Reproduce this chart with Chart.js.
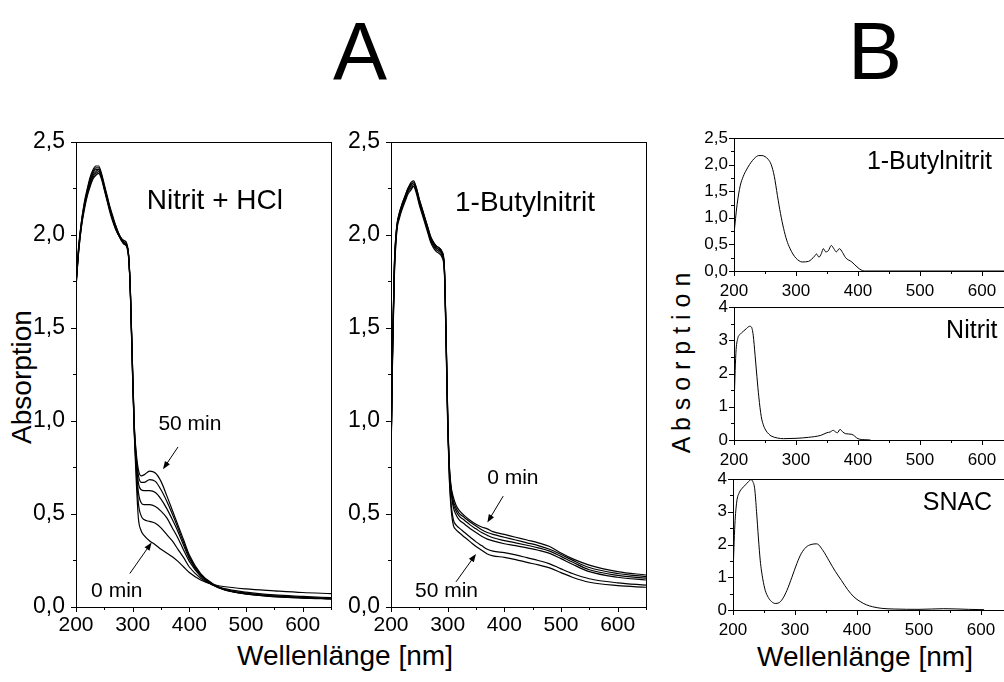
<!DOCTYPE html>
<html>
<head>
<meta charset="utf-8">
<script src="https://cdn.jsdelivr.net/npm/chart.js@4.4.1/dist/chart.umd.min.js"></script>
<style>
  html, body { margin: 0; padding: 0; background: #fff; overflow: hidden; width: 1004px; height: 682px; }
  body { position: relative; font-family: "Liberation Sans", Arial, sans-serif; color: #000; }
  canvas { position: absolute; }
  .t { position: absolute; white-space: nowrap; line-height: 1; }
  .c { transform: translateX(-50%); }
  .r { transform: translate(-50%, -50%) rotate(-90deg); }
</style>
</head>
<body>
<div class="t c" style="left:360px; top:11px; font-size:81px">A</div>
<div class="t c" style="left:875px; top:11px; font-size:81px">B</div>
<div class="t c" style="left:345px; top:642px; font-size:28px">Wellenlänge [nm]</div>
<div class="t c" style="left:865px; top:643px; font-size:28px">Wellenlänge [nm]</div>
<div class="t r" style="left:22px; top:377px; font-size:28px">Absorption</div>
<div class="t r" style="left:681px; top:363px; font-size:25px">A b s o r p t i o n</div>

<canvas id="nitritHcl" width="351" height="540" style="left:0; top:117px"></canvas>
<canvas id="butylTime" width="326" height="540" style="left:340px; top:117px"></canvas>
<canvas id="butylRef" width="343" height="183" style="left:690px; top:118px"></canvas>
<canvas id="nitritRef" width="343" height="183" style="left:690px; top:287px"></canvas>
<canvas id="snacRef" width="343" height="181" style="left:689px; top:459px"></canvas>

<script>
// --- A, left: nitrite + HCl, spectra every 10 min (0 ... 50 min)
const wlHcl = [200, 205, 210, 215, 220, 225, 230, 235, 240, 245, 250, 255, 260, 265, 270, 275, 280, 285, 290, 293,
  296, 300, 303, 306, 310, 315, 320, 330, 340, 350, 360, 370, 380, 390, 400, 420, 440, 460, 500, 550, 600, 650]
const hcl0 = [1.72, 1.92, 2.05, 2.14, 2.21, 2.26, 2.30, 2.32, 2.33, 2.30, 2.24, 2.18, 2.12, 2.07, 2.03, 2.00, 1.98, 1.96, 1.94, 1.88, 1.68, 1.22, 0.92,
  0.70, 0.48, 0.41, 0.385, 0.355, 0.335, 0.31, 0.29, 0.27, 0.245, 0.215, 0.185, 0.145, 0.122, 0.11, 0.097, 0.087, 0.078, 0.072]
const hcl10 = [1.72, 1.92, 2.06, 2.15, 2.22, 2.27, 2.31, 2.33, 2.34, 2.31, 2.25, 2.19, 2.13, 2.08, 2.03, 2.00, 1.98, 1.96, 1.94, 1.88, 1.68, 1.23, 0.93,
  0.75, 0.56, 0.49, 0.47, 0.46, 0.45, 0.425, 0.39, 0.355, 0.31, 0.265, 0.215, 0.155, 0.12, 0.10, 0.08, 0.065, 0.057, 0.05]
const hcl20 = [1.73, 1.93, 2.06, 2.16, 2.23, 2.28, 2.32, 2.34, 2.35, 2.31, 2.25, 2.19, 2.13, 2.08, 2.04, 2.00, 1.97, 1.95, 1.94, 1.88, 1.69, 1.24, 0.94,
  0.78, 0.62, 0.56, 0.55, 0.55, 0.54, 0.515, 0.48, 0.425, 0.37, 0.305, 0.245, 0.165, 0.12, 0.095, 0.075, 0.06, 0.052, 0.047]
const hcl30 = [1.73, 1.94, 2.07, 2.16, 2.23, 2.29, 2.33, 2.35, 2.35, 2.32, 2.26, 2.20, 2.14, 2.09, 2.04, 2.00, 1.97, 1.95, 1.93, 1.87, 1.69, 1.25, 0.95,
  0.80, 0.67, 0.63, 0.625, 0.625, 0.615, 0.58, 0.53, 0.47, 0.405, 0.33, 0.26, 0.17, 0.122, 0.095, 0.072, 0.058, 0.05, 0.045]
const hcl40 = [1.74, 1.94, 2.08, 2.17, 2.24, 2.30, 2.34, 2.36, 2.36, 2.32, 2.26, 2.20, 2.14, 2.09, 2.05, 2.01, 1.98, 1.96, 1.94, 1.88, 1.70, 1.26, 0.96,
  0.82, 0.71, 0.67, 0.67, 0.685, 0.675, 0.63, 0.57, 0.50, 0.425, 0.345, 0.27, 0.175, 0.125, 0.095, 0.07, 0.056, 0.049, 0.044]
const hcl50 = [1.74, 1.95, 2.08, 2.18, 2.25, 2.31, 2.35, 2.37, 2.37, 2.33, 2.27, 2.21, 2.15, 2.10, 2.05, 2.01, 1.98, 1.97, 1.95, 1.89, 1.70, 1.27, 0.97,
  0.84, 0.74, 0.705, 0.71, 0.73, 0.72, 0.675, 0.60, 0.52, 0.44, 0.36, 0.28, 0.18, 0.128, 0.097, 0.07, 0.055, 0.048, 0.044]

// --- A, right: 1-butyl nitrite, spectra every 10 min
const wlButyl = [200, 203, 206, 210, 215, 220, 225, 230, 235, 240, 245, 250, 255, 260, 265, 270, 275, 280, 285, 290,
  294, 297, 300, 303, 306, 310, 315, 320, 330, 340, 350, 360, 370, 380, 400, 420, 440, 460, 480, 500, 520, 550, 600, 650]
const butyl0 = [0.82, 1.45, 1.85, 2.04, 2.12, 2.17, 2.21, 2.25, 2.28, 2.29, 2.25, 2.19, 2.14, 2.09, 2.04, 1.99, 1.96, 1.94, 1.93, 1.91, 1.84, 1.50, 1.05, 0.76, 0.65,
  0.59, 0.545, 0.52, 0.49, 0.465, 0.445, 0.43, 0.42, 0.405, 0.39, 0.375, 0.36, 0.345, 0.325, 0.29, 0.26, 0.225, 0.19, 0.172]
const butyl10 = [0.81, 1.44, 1.84, 2.04, 2.12, 2.17, 2.21, 2.25, 2.27, 2.28, 2.25, 2.19, 2.14, 2.09, 2.04, 1.99, 1.96, 1.94, 1.93, 1.91, 1.84, 1.50, 1.04, 0.75, 0.64,
  0.57, 0.53, 0.505, 0.48, 0.455, 0.435, 0.415, 0.40, 0.39, 0.375, 0.36, 0.345, 0.33, 0.31, 0.282, 0.252, 0.212, 0.18, 0.163]
const butyl20 = [0.81, 1.43, 1.83, 2.03, 2.11, 2.16, 2.20, 2.24, 2.27, 2.28, 2.24, 2.18, 2.13, 2.08, 2.03, 1.98, 1.95, 1.93, 1.92, 1.90, 1.83, 1.49, 1.03, 0.74, 0.63,
  0.555, 0.515, 0.49, 0.465, 0.44, 0.42, 0.40, 0.385, 0.372, 0.357, 0.345, 0.332, 0.318, 0.30, 0.272, 0.242, 0.20, 0.17, 0.155]
const butyl30 = [0.80, 1.42, 1.82, 2.03, 2.11, 2.16, 2.20, 2.24, 2.26, 2.27, 2.24, 2.18, 2.13, 2.08, 2.03, 1.98, 1.95, 1.93, 1.92, 1.90, 1.83, 1.48, 1.02, 0.73, 0.62,
  0.535, 0.495, 0.47, 0.445, 0.42, 0.40, 0.38, 0.365, 0.355, 0.34, 0.33, 0.318, 0.305, 0.288, 0.26, 0.23, 0.19, 0.16, 0.145]
const butyl40 = [0.79, 1.40, 1.80, 2.02, 2.10, 2.15, 2.19, 2.23, 2.25, 2.26, 2.23, 2.17, 2.12, 2.07, 2.02, 1.97, 1.94, 1.92, 1.91, 1.89, 1.82, 1.46, 1.00, 0.70, 0.56,
  0.47, 0.44, 0.425, 0.40, 0.375, 0.35, 0.33, 0.31, 0.30, 0.292, 0.28, 0.265, 0.25, 0.232, 0.205, 0.18, 0.152, 0.13, 0.118]
const butyl50 = [0.78, 1.38, 1.78, 2.01, 2.09, 2.14, 2.18, 2.22, 2.24, 2.26, 2.22, 2.16, 2.11, 2.06, 2.01, 1.96, 1.93, 1.91, 1.90, 1.88, 1.81, 1.45, 0.98, 0.68, 0.53,
  0.44, 0.415, 0.40, 0.375, 0.35, 0.325, 0.305, 0.285, 0.275, 0.267, 0.255, 0.24, 0.226, 0.21, 0.185, 0.16, 0.133, 0.115, 0.106]

// --- B: reference spectra
const wlRefButyl = [200, 205, 210, 215, 220, 225, 230, 235, 240, 245, 250, 255, 260, 265, 270, 275, 280, 285, 290, 295,
  300, 310, 320, 325, 330, 333, 337, 341, 344, 348, 352, 357, 361, 365, 370, 375, 380, 390, 400, 405, 410, 450, 550, 650]
const refButyl = [0.70, 1.25, 1.60, 1.78, 1.90, 2.00, 2.08, 2.14, 2.17, 2.17, 2.15, 2.10, 2.00, 1.78, 1.42, 1.08, 0.80, 0.58, 0.43, 0.32,
  0.24, 0.17, 0.18, 0.22, 0.28, 0.32, 0.26, 0.33, 0.42, 0.36, 0.38, 0.48, 0.42, 0.36, 0.42, 0.35, 0.25, 0.17, 0.06, 0.02, 0.0, 0.0, 0.0, 0.0]

const wlRefNitrit = [200, 203, 206, 210, 215, 220, 225, 228, 231, 234, 237, 240, 244, 248, 252, 256, 260, 270, 280, 300,
  320, 340, 350, 355, 360, 364, 367, 371, 375, 380, 390, 400, 410, 420]
const refNitrit = [1.0, 2.6, 3.05, 3.18, 3.27, 3.35, 3.42, 3.40, 3.15, 2.55, 1.9, 1.3, 0.7, 0.42, 0.27, 0.18, 0.12, 0.06, 0.04, 0.05,
  0.08, 0.14, 0.22, 0.24, 0.29, 0.24, 0.22, 0.32, 0.25, 0.19, 0.17, 0.04, 0.01, 0.0]

const wlRefSnac = [200, 203, 206, 210, 215, 220, 225, 229, 232, 235, 238, 241, 244, 248, 252, 257, 262, 268, 274, 280, 287,
  295, 303, 310, 318, 326, 335, 345, 355, 365, 375, 385, 395, 405, 415, 425, 440, 460, 500, 540, 580, 605]
const refSnac = [1.1, 2.6, 3.3, 3.58, 3.72, 3.82, 3.92, 3.98, 3.92, 3.7, 3.0, 2.2, 1.5, 0.95, 0.6, 0.38, 0.26, 0.2, 0.22, 0.34, 0.6,
  1.0, 1.42, 1.72, 1.92, 2.0, 2.02, 1.82, 1.5, 1.18, 0.9, 0.62, 0.4, 0.26, 0.16, 0.1, 0.05, 0.03, 0.02, 0.04, 0.02, 0.01]

const xTicks = [200, 300, 400, 500, 600]
const yTicksDecimal = [0, 0.5, 1, 1.5, 2, 2.5]
const yTicksInt = [0, 1, 2, 3, 4]

Chart.defaults.font.family = '"Liberation Sans", Arial, sans-serif'
Chart.defaults.color = '#000'

const px = v => Math.round(v) + 0.5

// frame, outward major/minor ticks, text notes and arrows
const framePlugin = {
  id: 'frame',
  afterDraw(chart, args, opts) {
    const { ctx, chartArea: a } = chart
    const x = chart.scales.x, y = chart.scales.y
    ctx.save()
    ctx.strokeStyle = '#000'
    ctx.lineWidth = 1
    ctx.strokeRect(px(a.left), px(a.top), Math.round(a.right) - Math.round(a.left), Math.round(a.bottom) - Math.round(a.top))

    const xs = x.ticks.map(t => t.value), ys = y.ticks.map(t => t.value)
    ctx.beginPath()
    xs.forEach(v => { const p = px(x.getPixelForValue(v)); ctx.moveTo(p, a.bottom); ctx.lineTo(p, a.bottom + 5) })
    for (let i = 0; i < xs.length; i++) {
      const m = xs[i] + (xs[1] - xs[0]) / 2
      if (m <= x.max) { const p = px(x.getPixelForValue(m)); ctx.moveTo(p, a.bottom); ctx.lineTo(p, a.bottom + 3) }
    }
    ys.forEach(v => { const p = px(y.getPixelForValue(v)); ctx.moveTo(a.left, p); ctx.lineTo(a.left - 5, p) })
    for (let i = 0; i < ys.length - 1; i++) {
      const p = px(y.getPixelForValue((ys[i] + ys[i + 1]) / 2)); ctx.moveTo(a.left, p); ctx.lineTo(a.left - 3, p)
    }
    ctx.stroke()

    ctx.fillStyle = '#000'
    ctx.textBaseline = 'middle'
    ;(opts.notes || []).forEach(n => {
      ctx.font = n.size + 'px "Liberation Sans", Arial, sans-serif'
      ctx.textAlign = n.align
      ctx.fillText(n.text, x.getPixelForValue(n.x), y.getPixelForValue(n.y))
    })
    ;(opts.arrows || []).forEach(r => {
      const x0 = x.getPixelForValue(r[0]), y0 = y.getPixelForValue(r[1])
      const x1 = x.getPixelForValue(r[2]), y1 = y.getPixelForValue(r[3])
      const ang = Math.atan2(y1 - y0, x1 - x0)
      ctx.beginPath()
      ctx.moveTo(x0, y0)
      ctx.lineTo(x1 - 6 * Math.cos(ang), y1 - 6 * Math.sin(ang))
      ctx.stroke()
      ctx.beginPath()
      ctx.moveTo(x1, y1)
      ctx.lineTo(x1 - 8 * Math.cos(ang) + 3 * Math.sin(ang), y1 - 8 * Math.sin(ang) - 3 * Math.cos(ang))
      ctx.lineTo(x1 - 8 * Math.cos(ang) - 3 * Math.sin(ang), y1 - 8 * Math.sin(ang) + 3 * Math.cos(ang))
      ctx.closePath()
      ctx.fill()
    })
    ctx.restore()
  }
}

function makePanel(id, o) {
  return new Chart(document.getElementById(id), {
    type: 'line',
    data: {
      datasets: o.series.map(s => ({
        data: o.wl.map((w, i) => ({ x: w, y: s[i] })),
        borderColor: '#000',
        borderWidth: o.lineWidth,
        pointRadius: 0,
        fill: false,
        cubicInterpolationMode: 'monotone'
      }))
    },
    options: {
      responsive: false,
      animation: false,
      events: [],
      layout: { padding: { top: 20, right: 20, left: 0, bottom: 0 } },
      plugins: {
        legend: { display: false },
        tooltip: { enabled: false },
        frame: { notes: o.notes, arrows: o.arrows }
      },
      scales: {
        x: {
          type: 'linear', min: 200, max: 650,
          grid: { display: false, drawTicks: false },
          border: { display: false },
          afterBuildTicks: s => { s.ticks = xTicks.map(v => ({ value: v })) },
          ticks: { padding: o.xPad, autoSkip: false, maxRotation: 0, font: { size: o.tickSize } },
          afterFit: s => { s.height = o.xHeight }
        },
        y: {
          type: 'linear', min: 0, max: o.yMax,
          grid: { display: false, drawTicks: false },
          border: { display: false },
          afterBuildTicks: s => { s.ticks = o.yTicks.map(v => ({ value: v })) },
          ticks: {
            padding: o.yPad, autoSkip: false, font: { size: o.yTickSize || o.tickSize },
            callback: v => o.yTicks === yTicksInt ? String(v) : v.toFixed(1).replace('.', ',')
          },
          afterFit: s => { s.width = o.yWidth }
        }
      }
    },
    plugins: [framePlugin]
  })
}

makePanel('nitritHcl', {
  wl: wlHcl, series: [hcl0, hcl10, hcl20, hcl30, hcl40, hcl50],
  lineWidth: 1.2, yMax: 2.5, yTicks: yTicksDecimal, tickSize: 21, yTickSize: 23,
  yWidth: 76, xHeight: 50, yPad: 11, xPad: 6,
  notes: [
    { text: 'Nitrit + HCl', x: 325, y: 2.18, align: 'left', size: 28 },
    { text: '50 min', x: 401, y: 0.98, align: 'center', size: 21 },
    { text: '0 min', x: 272, y: 0.085, align: 'center', size: 21 }
  ],
  arrows: [[380, 0.86, 353.5, 0.74], [295, 0.18, 333.5, 0.347]]
})

makePanel('butylTime', {
  wl: wlButyl, series: [butyl0, butyl10, butyl20, butyl30, butyl40, butyl50],
  lineWidth: 1.2, yMax: 2.5, yTicks: yTicksDecimal, tickSize: 21, yTickSize: 23,
  yWidth: 51, xHeight: 50, yPad: 11, xPad: 6,
  notes: [
    { text: '1-Butylnitrit', x: 313, y: 2.17, align: 'left', size: 28 },
    { text: '0 min', x: 415, y: 0.69, align: 'center', size: 21 },
    { text: '50 min', x: 298, y: 0.085, align: 'center', size: 21 }
  ],
  arrows: [[398, 0.596, 370, 0.454], [314.7, 0.135, 350, 0.285]]
})

makePanel('butylRef', {
  wl: wlRefButyl, series: [refButyl],
  lineWidth: 1, yMax: 2.5, yTicks: yTicksDecimal, tickSize: 17,
  yWidth: 44, xHeight: 30, yPad: 6, xPad: 10,
  notes: [{ text: '1-Butylnitrit', x: 616, y: 2.05, align: 'right', size: 25 }]
})

makePanel('nitritRef', {
  wl: wlRefNitrit, series: [refNitrit],
  lineWidth: 1, yMax: 4, yTicks: yTicksInt, tickSize: 17,
  yWidth: 44, xHeight: 30, yPad: 6, xPad: 10,
  notes: [{ text: 'Nitrit', x: 625, y: 3.27, align: 'right', size: 25 }]
})

makePanel('snacRef', {
  wl: wlRefSnac, series: [refSnac],
  lineWidth: 1, yMax: 4, yTicks: yTicksInt, tickSize: 17,
  yWidth: 44, xHeight: 30, yPad: 6, xPad: 10,
  notes: [{ text: 'SNAC', x: 618, y: 3.26, align: 'right', size: 25 }]
})
</script>
</body>
</html>
